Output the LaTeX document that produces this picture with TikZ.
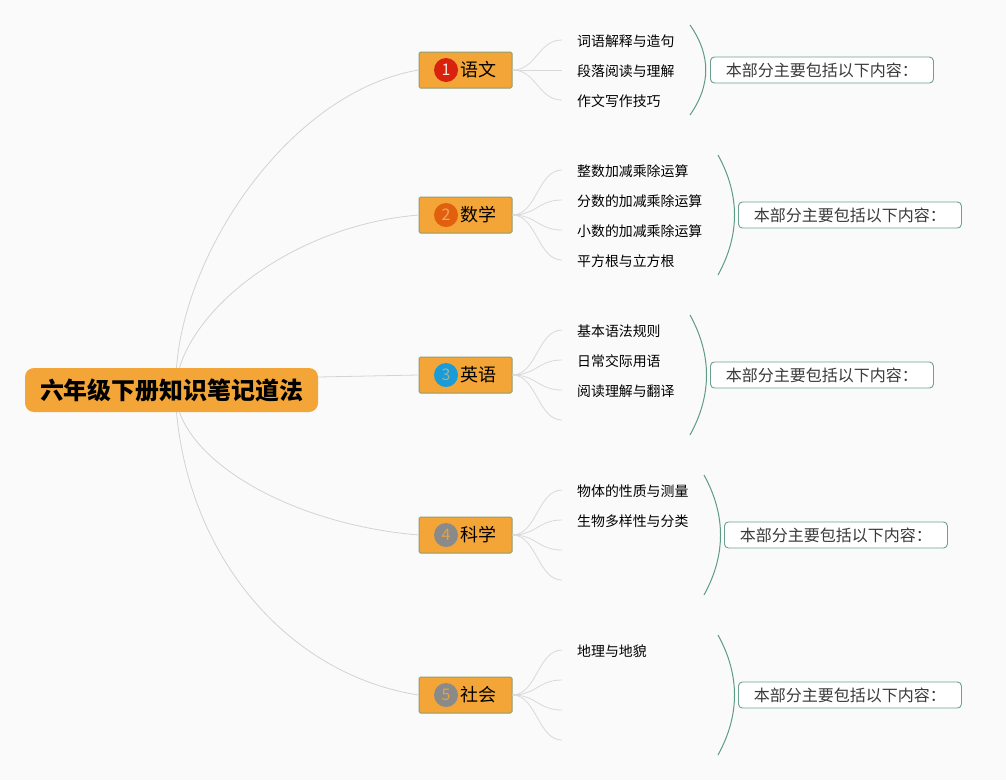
\documentclass[tikz,border=0pt]{standalone}
\usepackage{fontspec}
\setmainfont{Noto Sans CJK SC}
\definecolor{bgc}{HTML}{FAFAFA}
\definecolor{orangeF}{HTML}{F3A537}
\definecolor{branchBorder}{HTML}{8C9E74}
\definecolor{leafLine}{HTML}{D9D9D9}
\definecolor{rootLine}{HTML}{D3D3D3}
\definecolor{braceC}{HTML}{5E9A88}
\definecolor{sumBorder}{HTML}{6BA08F}
\definecolor{sumText}{HTML}{3A3A3A}
\definecolor{cA}{HTML}{D8220E}\definecolor{tA}{HTML}{FBE3D6}
\definecolor{cB}{HTML}{E0600E}\definecolor{tB}{HTML}{F5A66A}
\definecolor{cC}{HTML}{1B9BD7}\definecolor{tC}{HTML}{9AB59A}
\definecolor{cD}{HTML}{8A8A8A}\definecolor{tD}{HTML}{E8A040}
\begin{document}
\begin{tikzpicture}[x=1pt,y=-1pt,
  rootbox/.style={rectangle, rounded corners=9pt, fill=orangeF, minimum width=293pt, minimum height=44pt, inner sep=0pt, font=\fontsize{23.9}{28}\selectfont\bfseries},
  branchbox/.style={rectangle, rounded corners=1.5pt, fill=orangeF, draw=branchBorder, line width=1pt, minimum width=93pt, minimum height=36pt, inner sep=0pt},
  numcirc/.style={circle, minimum size=24pt, inner sep=0pt, font=\fontsize{16}{17}\selectfont},
  branchlabel/.style={anchor=west, inner sep=0pt, font=\fontsize{18}{20}\selectfont},
  leaf/.style={anchor=west, inner sep=0pt, font=\fontsize{13.9}{16}\selectfont},
  sumbox/.style={anchor=west, rectangle, rounded corners=4pt, draw=sumBorder, line width=0.9pt, fill=white, minimum width=223pt, minimum height=26pt, inner sep=0pt, text=sumText, font=\fontsize{16}{18}\selectfont},
  rootlink/.style={draw=rootLine, line width=0.8pt},
  leaflink/.style={draw=leafLine, line width=0.8pt},
  bracearc/.style={draw=braceC, line width=1pt}
]
\useasboundingbox (0,0) rectangle (1006,780);
\fill[bgc] (0,0) rectangle (1006,780);

% root
\node[rootbox] (root) at (171.5,390) {六年级下册知识笔记道法};

% branches
\node[branchbox] (b1) at (465.5,70) {};
\node[numcirc, fill=cA, text=tA] (n1) at (446,70) {1};
\node[branchlabel] (l1) at (460,70) {语文};

\node[branchbox] (b2) at (465.5,215) {};
\node[numcirc, fill=cB, text=tB] (n2) at (446,215) {2};
\node[branchlabel] (l2) at (460,215) {数学};

\node[branchbox] (b3) at (465.5,375) {};
\node[numcirc, fill=cC, text=tC] (n3) at (446,375) {3};
\node[branchlabel] (l3) at (460,375) {英语};

\node[branchbox] (b4) at (465.5,535) {};
\node[numcirc, fill=cD, text=tD] (n4) at (446,535) {4};
\node[branchlabel] (l4) at (460,535) {科学};

\node[branchbox] (b5) at (465.5,695) {};
\node[numcirc, fill=cD, text=tD] (n5) at (446,695) {5};
\node[branchlabel] (l5) at (460,695) {社会};

% root links
\draw[rootlink] ([xshift=5pt]root.north) .. controls (185,250) and (290,92) .. (b1.west);
\draw[rootlink] ([xshift=8pt]root.north) .. controls (200,300) and (300,225) .. (b2.west);
\draw[rootlink] ([yshift=13pt]root.east) -- (b3.west);
\draw[rootlink] ([xshift=8pt]root.south) .. controls (200,470) and (300,525) .. (b4.west);
\draw[rootlink] ([xshift=5pt]root.south) .. controls (190,560) and (290,675) .. (b5.west);

% leaves: 语文
\coordinate (p11) at (562,40); \coordinate (p12) at (562,70); \coordinate (p13) at (562,100);
\node[leaf] (a11) at (577,41) {词语解释与造句};
\node[leaf] (a12) at (577,71) {段落阅读与理解};
\node[leaf] (a13) at (577,101) {作文写作技巧};
\foreach \p in {p11,p12,p13}
  \draw[leaflink] (b1.east) .. controls +(24,0) and +(-24,0) .. (\p);

% 数学
\coordinate (p21) at (562,170); \coordinate (p22) at (562,200); \coordinate (p23) at (562,230); \coordinate (p24) at (562,260);
\node[leaf] (a21) at (577,171) {整数加减乘除运算};
\node[leaf] (a22) at (577,201) {分数的加减乘除运算};
\node[leaf] (a23) at (577,231) {小数的加减乘除运算};
\node[leaf] (a24) at (577,261) {平方根与立方根};
\foreach \p in {p21,p22,p23,p24}
  \draw[leaflink] (b2.east) .. controls +(24,0) and +(-24,0) .. (\p);

% 英语
\coordinate (p31) at (562,330); \coordinate (p32) at (562,360); \coordinate (p33) at (562,390); \coordinate (p34) at (562,420);
\node[leaf] (a31) at (577,331) {基本语法规则};
\node[leaf] (a32) at (577,361) {日常交际用语};
\node[leaf] (a33) at (577,391) {阅读理解与翻译};
\foreach \p in {p31,p32,p33,p34}
  \draw[leaflink] (b3.east) .. controls +(24,0) and +(-24,0) .. (\p);

% 科学
\coordinate (p41) at (562,490); \coordinate (p42) at (562,520); \coordinate (p43) at (562,550); \coordinate (p44) at (562,580);
\node[leaf] (a41) at (577,491) {物体的性质与测量};
\node[leaf] (a42) at (577,521) {生物多样性与分类};
\foreach \p in {p41,p42,p43,p44}
  \draw[leaflink] (b4.east) .. controls +(24,0) and +(-24,0) .. (\p);

% 社会
\coordinate (p51) at (562,650); \coordinate (p52) at (562,680); \coordinate (p53) at (562,710); \coordinate (p54) at (562,740);
\node[leaf] (a51) at (577,651) {地理与地貌};
\foreach \p in {p51,p52,p53,p54}
  \draw[leaflink] (b5.east) .. controls +(24,0) and +(-24,0) .. (\p);

% braces
\draw[bracearc] (690,25) .. controls (711,55) and (711,85) .. (690,115);
\draw[bracearc] (718,155) .. controls (740,195) and (740,235) .. (718,275);
\draw[bracearc] (690,315) .. controls (712,355) and (712,395) .. (690,435);
\draw[bracearc] (704,475) .. controls (726,515) and (726,555) .. (704,595);
\draw[bracearc] (718,635) .. controls (740,675) and (740,715) .. (718,755);

% summaries
\node[sumbox] (s1) at (710,70) {本部分主要包括以下内容：};
\node[sumbox] (s2) at (738,215) {本部分主要包括以下内容：};
\node[sumbox] (s3) at (710,375) {本部分主要包括以下内容：};
\node[sumbox] (s4) at (724,535) {本部分主要包括以下内容：};
\node[sumbox] (s5) at (738,695) {本部分主要包括以下内容：};
\end{tikzpicture}
\end{document}
